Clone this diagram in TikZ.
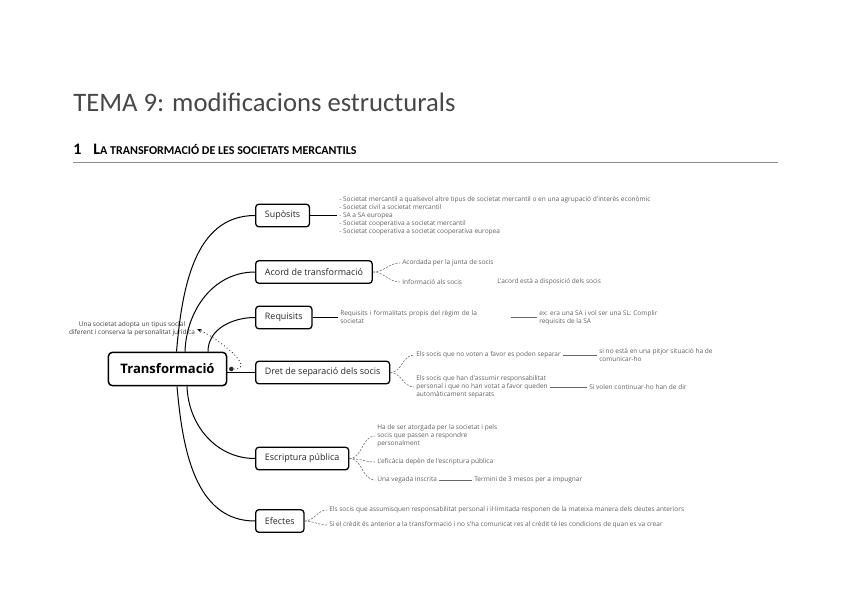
\documentclass[tikz,border=0pt]{standalone}
\usepackage{fontspec}
\setmainfont{Carlito}
\newfontfamily\mapfont{Open Sans}
\usepackage{xcolor}
\usetikzlibrary{arrows.meta,positioning,calc}
\definecolor{leafgray}{HTML}{606060}
\definecolor{rulegray}{HTML}{8C8C8C}

\begin{document}
\begin{tikzpicture}[
  x=0.75pt, y=-0.75pt,
  root/.style={draw, line width=1.1pt, rounded corners=3pt, fill=white, inner xsep=9pt,
               minimum height=25pt, font=\mapfont\bfseries\fontsize{9.8}{11}\selectfont},
  branch/.style={draw, line width=0.95pt, rounded corners=2.5pt, fill=white, inner xsep=7pt,
                 minimum height=17pt, anchor=west, text=black!85,
                 font=\mapfont\fontsize{6.7}{8}\selectfont},
  leaf/.style={inner sep=1.5pt, anchor=west, align=left, text=leafgray,
               font=\mapfont\fontsize{4.9}{6}\selectfont},
  stem/.style={line width=0.75pt},
  brace/.style={draw=black!55, dash pattern=on 1.6pt off 1pt, line width=0.45pt},
  tie/.style={draw=black!60, line width=0.5pt},
  pin/.style={circle, fill=black!85, inner sep=0pt, minimum size=3.4pt},
  note/.style={dotted, line width=0.6pt, -{Stealth[length=3.5pt]}}
]
\useasboundingbox (0,0) rectangle (848,599);

\node[anchor=base west, inner sep=0pt, text=black!72, font=\fontsize{20}{24}\selectfont]
  (title) at (73,112) {TEMA 9: modificacions estructurals};
\node[anchor=base west, inner sep=0pt, font=\bfseries\fontsize{12}{14}\selectfont]
  (sec) at (73,154) {1\hspace{9pt}L{\fontsize{9}{10}\selectfont A TRANSFORMACIÓ DE LES SOCIETATS MERCANTILS}};
\draw[rulegray, line width=0.6pt] (73,162) -- (778,162);

\node[root] (root) at (167.5,369) {Transformació};

\node[branch] (sup) at (255,215.5) {Supòsits};
\node[branch] (acord) at (255,272) {Acord de transformació};
\node[branch] (req) at (255,317.5) {Requisits};
\node[branch] (dret) at (255,372.5) {Dret de separació dels socis};
\node[branch] (escr) at (255,458.5) {Escriptura pública};
\node[branch] (efec) at (255,521) {Efectes};

\node[leaf] (supl) at (337,215.5) {- Societat mercantil a qualsevol altre tipus de societat mercantil o en una agrupació d'interès econòmic\\
  - Societat civil a societat mercantil\\- SA a SA europea\\- Societat cooperativa a societat mercantil\\
  - Societat cooperativa a societat cooperativa europea};

\node[leaf] (acA) at (400,263) {Acordada per la junta de socis};
\node[leaf] (acB) at (400,282) {Informació als socis};
\node[leaf] (acC) at (495,282) {L'acord està a disposició dels socis};

\node[leaf, text width=126pt] (reqA) at (338,317.5) {Requisits i formalitats propis del règim de la\\ societat};
\node[leaf] (reqB) at (537,317.5) {ex: era una SA i vol ser una SL: Complir\\ requisits de la SA};

\node[leaf] (drA) at (414,355) {Els socis que no voten a favor es poden separar};
\node[leaf] (drA2) at (597,355) {si no està en una pitjor situació ha de\\ comunicar-ho};
\node[leaf] (drB) at (414,387) {Els socis que han d'assumir responsabilitat\\ personal i que no han votat a favor queden\\ automàticament separats};
\node[leaf] (drB2) at (587,387) {Si volen continuar-ho han de dir};

\node[leaf] (esA) at (375,436) {Ha de ser atorgada per la societat i pels\\ socis que passen a respondre\\ personalment};
\node[leaf] (esB) at (375,462) {L'eficàcia depèn de l'escriptura pública};
\node[leaf] (esC) at (375,480) {Una vegada inscrita};
\node[leaf] (esC2) at (472,480) {Termini de 3 mesos per a impugnar};

\node[leaf] (efA) at (327,510) {Els socis que assumisquen responsabilitat personal i il·limitada responen de la mateixa manera dels deutes anteriors};
\node[leaf] (efB) at (327,525) {Si el crèdit és anterior a la transformació i no s'ha comunicat res al crèdit té les condicions de quan es va crear};

\node[leaf, anchor=center, align=center, text=black!75] (def) at (132,329)
  {Una societat adopta un tipus social\\ diferent i conserva la personalitat jurídica};
\node[pin] (dot) at ($(root.east)+(4,0)$) {};

\draw[stem] ($(root.north)+(9,0)$) to[out=85,in=180] (sup.west);
\draw[stem] ($(root.north)+(17.5,0)$) to[out=88,in=180] (acord.west);
\draw[stem] ($(root.north)+(40.5,0)$) to[out=90,in=180] (req.west);
\draw[stem] (root.east |- dret.west) -- (dret.west);
\draw[stem] ($(root.south)+(19.5,0)$) to[out=-88,in=180] (escr.west);
\draw[stem] ($(root.south)+(9.5,0)$) to[out=-85,in=180] (efec.west);

\draw[stem] (sup.east) -- (supl.west);
\draw[stem] (req.east) -- (reqA.west);
\draw[brace] (acord.east) to[out=0,in=180] (acA.west);
\draw[brace] (acord.east) to[out=0,in=180] (acB.west);
\draw[brace] (dret.east) to[out=0,in=180] (drA.west);
\draw[brace] (dret.east) to[out=0,in=180] (drB.west);
\draw[brace] (escr.east) to[out=0,in=180] (esA.west);
\draw[brace] (escr.east) to[out=0,in=180] (esB.west);
\draw[brace] (escr.east) to[out=0,in=180] (esC.west);
\draw[brace] (efec.east) to[out=0,in=180] (efA.west);
\draw[brace] (efec.east) to[out=0,in=180] (efB.west);

\draw[tie] (reqA.east) -- (reqB.west);
\draw[tie] (drA.east) -- (drA2.west);
\draw[tie] (drB.east) -- (drB2.west);
\draw[tie] (esC.east) -- (esC2.west);

\draw[note] (dot) to[out=0,in=-25,looseness=1.1] (def.east);
\end{tikzpicture}
\end{document}
